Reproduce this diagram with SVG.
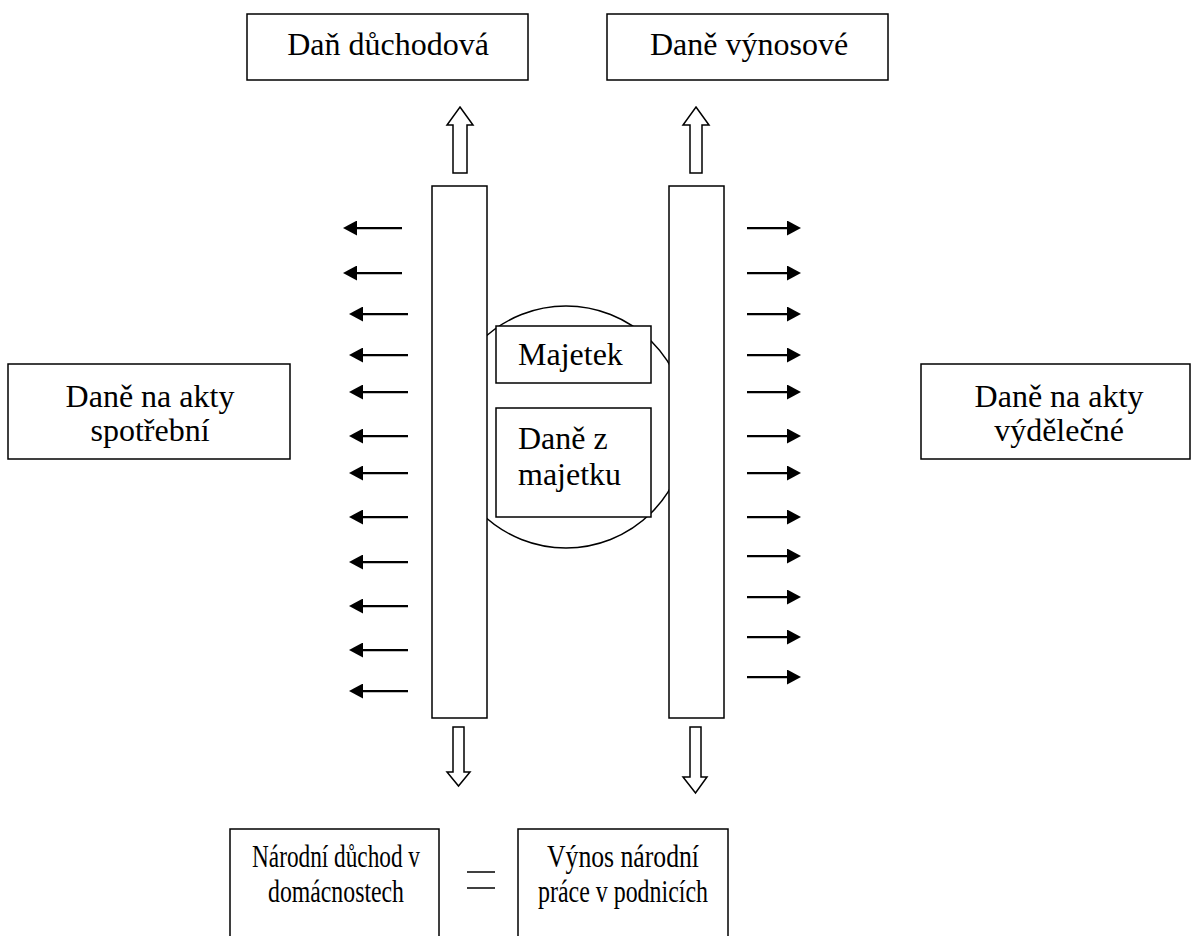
<svg xmlns="http://www.w3.org/2000/svg" width="1192" height="936" viewBox="0 0 1192 936">
<style>
.box{fill:#fff;stroke:#000;stroke-width:1.5}
text{font-family:"Liberation Serif","Times New Roman",serif;fill:#000}
.t{font-size:32px}
.c{text-anchor:middle}
.b{font-size:31px;text-anchor:middle}
.arr{stroke:#000;stroke-width:2.25;fill:none;marker-end:url(#ah)}
.blk{fill:#fff;stroke:#000;stroke-width:1.5;stroke-linejoin:miter}
</style>
<defs>
<marker id="ah" viewBox="0 0 14 15" refX="10" refY="7.5" markerWidth="14" markerHeight="15" markerUnits="userSpaceOnUse" orient="auto">
<path d="M0,0 L14,7.5 L0,15 z" fill="#000"/>
</marker>
</defs>
<rect width="1192" height="936" fill="#fff"/>

<g id="circle-property">
<circle cx="566" cy="427" r="121" fill="#fff" stroke="#000" stroke-width="1.5"/>
</g>

<g id="col-left"><rect class="box" x="432" y="186" width="55" height="532"/></g>
<g id="col-right"><rect class="box" x="669" y="186" width="55" height="532"/></g>

<g id="majetek">
<rect class="box" x="496" y="326" width="155" height="57"/>
<text class="t" font-family="Liberation Serif, serif" x="518" y="365">Majetek</text>
</g>
<g id="dane-z-majetku">
<rect class="box" x="496" y="408" width="155" height="109"/>
<text class="t" font-family="Liberation Serif, serif" x="518" y="449">Daně z</text>
<text class="t" font-family="Liberation Serif, serif" x="518" y="485">majetku</text>
</g>

<g id="dan-duchodova">
<rect class="box" x="247" y="14" width="281" height="66"/>
<text class="t c" font-family="Liberation Serif, serif" x="388" y="55">Daň důchodová</text>
</g>
<g id="dane-vynosove">
<rect class="box" x="607" y="14" width="281" height="66"/>
<text class="t c" font-family="Liberation Serif, serif" x="749" y="55">Daně výnosové</text>
</g>
<g id="dane-spotrebni">
<rect class="box" x="8" y="364" width="282" height="95"/>
<text class="t c" font-family="Liberation Serif, serif" x="150" y="407">Daně na akty</text>
<text class="t c" font-family="Liberation Serif, serif" x="150" y="441">spotřební</text>
</g>
<g id="dane-vydelecne">
<rect class="box" x="921" y="364" width="269" height="95"/>
<text class="t c" font-family="Liberation Serif, serif" x="1059" y="407">Daně na akty</text>
<text class="t c" font-family="Liberation Serif, serif" x="1059" y="441">výdělečné</text>
</g>
<g id="narodni-duchod">
<rect class="box" x="230" y="829" width="209" height="120"/>
<text class="b" x="336" y="867" textLength="168" lengthAdjust="spacingAndGlyphs">Národní důchod v</text>
<text class="b" x="336" y="902" textLength="136" lengthAdjust="spacingAndGlyphs">domácnostech</text>
</g>
<g id="vynos-narodni-prace">
<rect class="box" x="518" y="829" width="210" height="120"/>
<text class="b" x="623" y="867" textLength="152" lengthAdjust="spacingAndGlyphs">Výnos národní</text>
<text class="b" x="623" y="902" textLength="170" lengthAdjust="spacingAndGlyphs">práce v podnicích</text>
</g>
<g id="equals">
<line x1="467" y1="872" x2="495" y2="872" stroke="#000" stroke-width="1.5"/>
<line x1="467" y1="888" x2="495" y2="888" stroke="#000" stroke-width="1.5"/>
</g>

<g id="connectors">
<polygon class="blk" points="460,107 473,125 467,125 467,173 453,173 453,125 447,125"/>
<polygon class="blk" points="696,107 709,125 702,125 702,173 690,173 690,125 683,125"/>
<polygon class="blk" points="453,727 464,727 464,772 470,772 458.5,786 447,772 453,772"/>
<polygon class="blk" points="690,727 701,727 701,777 707,777 695.5,793 683,777 690,777"/>

<line class="arr" x1="402" y1="228" x2="347" y2="228"/>
<line class="arr" x1="402" y1="273" x2="347" y2="273"/>
<line class="arr" x1="408" y1="314" x2="353" y2="314"/>
<line class="arr" x1="408" y1="355" x2="353" y2="355"/>
<line class="arr" x1="408" y1="392" x2="353" y2="392"/>
<line class="arr" x1="408" y1="436" x2="353" y2="436"/>
<line class="arr" x1="408" y1="473" x2="353" y2="473"/>
<line class="arr" x1="408" y1="517" x2="353" y2="517"/>
<line class="arr" x1="408" y1="562" x2="353" y2="562"/>
<line class="arr" x1="408" y1="606" x2="353" y2="606"/>
<line class="arr" x1="408" y1="650" x2="353" y2="650"/>
<line class="arr" x1="408" y1="691" x2="353" y2="691"/>

<line class="arr" x1="747" y1="228" x2="797" y2="228"/>
<line class="arr" x1="747" y1="273" x2="797" y2="273"/>
<line class="arr" x1="747" y1="314" x2="797" y2="314"/>
<line class="arr" x1="747" y1="355" x2="797" y2="355"/>
<line class="arr" x1="747" y1="392" x2="797" y2="392"/>
<line class="arr" x1="747" y1="436" x2="797" y2="436"/>
<line class="arr" x1="747" y1="473" x2="797" y2="473"/>
<line class="arr" x1="747" y1="517" x2="797" y2="517"/>
<line class="arr" x1="747" y1="556" x2="797" y2="556"/>
<line class="arr" x1="747" y1="597" x2="797" y2="597"/>
<line class="arr" x1="747" y1="637" x2="797" y2="637"/>
<line class="arr" x1="747" y1="677" x2="797" y2="677"/>
</g>
</svg>
